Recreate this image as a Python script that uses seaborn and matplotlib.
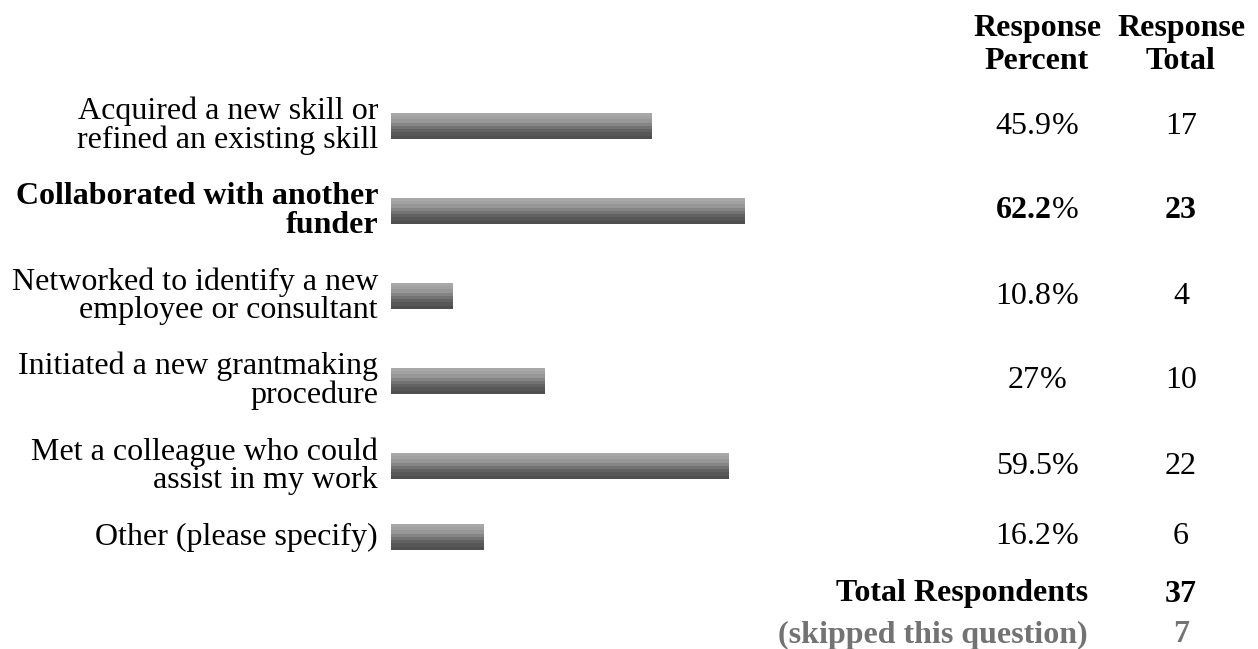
import numpy as np
import pandas as pd
import seaborn as sns
import matplotlib.pyplot as plt
from matplotlib.colors import LinearSegmentedColormap

# survey answers
labels = [
    "Acquired a new skill or\nrefined an existing skill",
    "Collaborated with another\nfunder",
    "Networked to identify a new\nemployee or consultant",
    "Initiated a new grantmaking\nprocedure",
    "Met a colleague who could\nassist in my work",
    "Other (please specify)",
]
percents = [45.9, 62.2, 10.8, 27.0, 59.5, 16.2]
pct_text = ["45.9", "62.2", "10.8", "27", "59.5", "16.2"]
totals = [17, 23, 4, 10, 22, 6]
highlight = 1  # row shown in bold
total_respondents = 37
skipped = 7

sns.set_theme(style="white")
plt.rcParams["font.family"] = ["Liberation Serif", "DejaVu Serif"]
plt.rcParams["text.color"] = "black"
FS = 23

W, H = 1258, 649
fig = plt.figure(figsize=(W / 100, H / 100), dpi=100)

# row layout in pixel rows: two-line rows are taller than one-line rows
row_h = {1: 57, 2: 85}
heights = [row_h[l.count("\n") + 1] for l in labels]
tops = 83.5 + np.concatenate([[0], np.cumsum(heights)[:-1]])
centers = tops + np.array(heights) / 2

df = pd.DataFrame({"pct": percents, "y": centers})

bx = fig.add_axes([391 / W, 0, 568 / W, 1])
min_gap = np.min(np.diff(centers))
sns.barplot(data=df, x="pct", y="y", orient="h", native_scale=True,
            width=26 / min_gap, color="#888888", ax=bx)
bx.set_xlim(0, 100)
bx.set_ylim(H, 0)
bx.axis("off")

# stepped grey gradient inside each bar
cmap = LinearSegmentedColormap.from_list("g", ["#a8a8a8", "#9c9c9c", "#7c7c7c", "#5e5e5e", "#4f4f4f"], N=8)
grad = np.linspace(0, 1, 8).reshape(-1, 1)
for p in bx.patches:
    x0, y0 = p.get_x(), p.get_y()
    w, h = p.get_width(), p.get_height()
    im = bx.imshow(grad, cmap=cmap, aspect="auto", interpolation="nearest",
                   extent=[x0, x0 + w, y0 + h, y0], zorder=3)
    im.set_clip_path(p)
    p.set_facecolor("none")
    p.set_edgecolor("none")
bx.set_ylim(H, 0)

# text overlay in pixel coordinates
tx = fig.add_axes([0, 0, 1, 1], facecolor="none")
tx.set_xlim(0, W)
tx.set_ylim(H, 0)
tx.axis("off")

PCT_X, TOT_X, LAB_X = 1037, 1181, 378
tx.text(PCT_X, 45, "Response\nPercent", ha="center", va="center", fontsize=FS,
        fontweight="bold", linespacing=1.22)
tx.text(TOT_X, 45, "Response\nTotal", ha="center", va="center", fontsize=FS,
        fontweight="bold", linespacing=1.22)

pct_parts = []
for i, (lab, pt, tot, cy) in enumerate(zip(labels, pct_text, totals, centers)):
    bold = "bold" if i == highlight else "normal"
    tx.text(LAB_X, cy, lab, ha="right", va="center", fontsize=FS,
            fontweight=bold, linespacing=0.97)
    a = tx.text(PCT_X, cy, pt, ha="left", va="center", fontsize=FS, fontweight=bold)
    b = tx.text(PCT_X, cy, "%", ha="left", va="center", fontsize=FS)
    pct_parts.append((a, b))
    tx.text(TOT_X, cy, str(tot), ha="center", va="center", fontsize=FS, fontweight=bold)

tx.text(1088, 594, "Total Respondents", ha="right", va="center", fontsize=FS, fontweight="bold")
tx.text(TOT_X, 594, str(total_respondents), ha="center", va="center", fontsize=FS, fontweight="bold")
tx.text(1088, 635, "(skipped this question)", ha="right", va="center", fontsize=FS,
        fontweight="bold", color="#737373")
tx.text(TOT_X, 635, str(skipped), ha="center", va="center", fontsize=FS,
        fontweight="bold", color="#737373")

# centre the two-part percent strings
fig.canvas.draw()
r = fig.canvas.get_renderer()
inv = tx.transData.inverted()
for a, b in pct_parts:
    ea, eb = a.get_window_extent(r), b.get_window_extent(r)
    total_w = ea.width + eb.width
    x_start = tx.transData.transform((PCT_X, 0))[0] - total_w / 2
    ya = a.get_position()[1]
    a.set_position((inv.transform((x_start, 0))[0], ya))
    b.set_position((inv.transform((x_start + ea.width, 0))[0], ya))

fig.savefig("out.png", dpi=100)
